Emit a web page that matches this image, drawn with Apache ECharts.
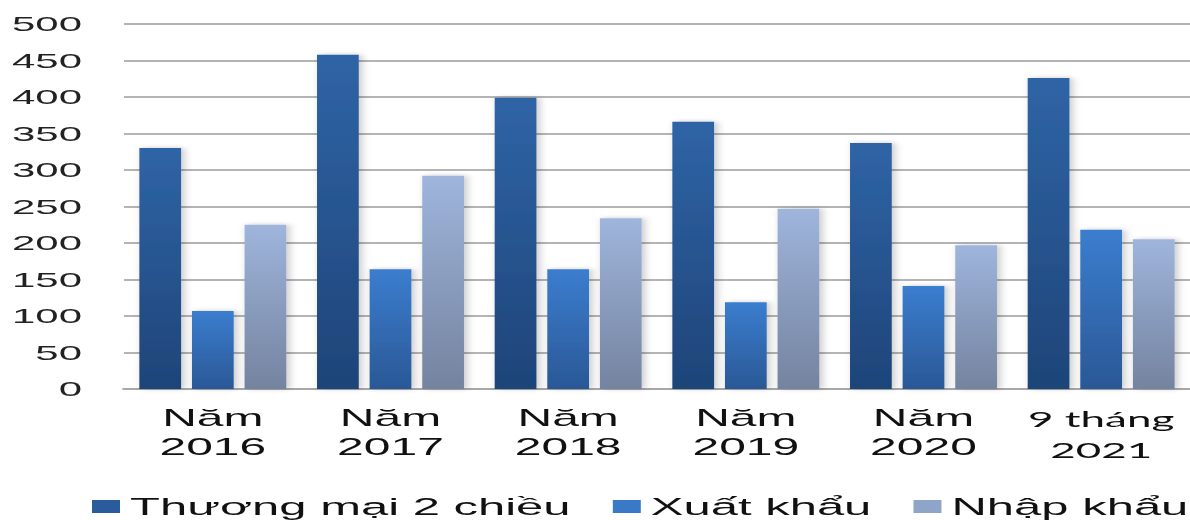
<!DOCTYPE html>
<html>
<head>
<meta charset="utf-8">
<script src="https://cdn.jsdelivr.net/npm/echarts@6/dist/echarts.min.js"></script>
<style>
  html, body { margin: 0; padding: 0; background: #fff; overflow: hidden; }
  /* The chart is laid out at half width and stretched horizontally,
     giving the wide lettering and broad bars of this figure. */
  #chart { width: 595px; height: 520px; transform: scaleX(2); transform-origin: 0 0; }
</style>
</head>
<body>
<div id="chart"></div>
<script>
// Categories (years)
const categories = ['Năm\n2016', 'Năm\n2017', 'Năm\n2018', 'Năm\n2019', 'Năm\n2020', '9 tháng\n2021'];
// Series values
const tradeTotal = [330, 458, 399, 366, 337, 426];
const exportVals = [107, 164, 164, 119, 141, 218];
const importVals = [225, 292, 234, 247, 197, 205];
// Series names
const seriesNames = ['Thương mại 2 chiều', 'Xuất khẩu', 'Nhập khẩu'];
// Value axis ticks
const yMin = 0, yMax = 500, yStep = 50;

const grad = (top, bottom) => new echarts.graphic.LinearGradient(0, 0, 0, 1, [
  { offset: 0, color: top }, { offset: 1, color: bottom }
]);

const barStyle = (top, bottom) => ({
  color: grad(top, bottom),
  shadowColor: 'rgba(0,0,0,0.22)',
  shadowBlur: 4,
  shadowOffsetX: 1.5,
  shadowOffsetY: 0
});

const chart = echarts.init(document.getElementById('chart'), null, { renderer: 'svg' });

chart.setOption({
  animation: false,
  backgroundColor: '#ffffff',
  grid: { left: 62, right: -3, top: 24, bottom: 131, containLabel: false },
  legend: {
    left: 46,
    top: 494,
    width: 570,
    padding: 0,
    itemWidth: 14,
    itemHeight: 13,
    itemGap: 21,
    icon: 'rect',
    textStyle: { fontFamily: 'Liberation Sans, Arial, sans-serif', fontSize: 24.5, color: '#111' },
    data: [
      { name: seriesNames[0], itemStyle: { color: '#2a5b9c' } },
      { name: seriesNames[1], itemStyle: { color: '#3a78c8' } },
      { name: seriesNames[2], itemStyle: { color: '#8fa4c9' } }
    ]
  },
  xAxis: {
    type: 'category',
    data: categories,
    axisLine: { show: true, lineStyle: { color: '#a8a8a8', width: 2 } },
    axisTick: { show: false },
    axisLabel: {
      interval: 0,
      margin: 14,
      fontFamily: 'Liberation Sans, Arial, sans-serif',
      fontSize: 24,
      lineHeight: 29,
      color: '#111',
      formatter: (v, i) => i === categories.length - 1
        ? v.split('\n').map(s => '{alt|' + s + '}').join('\n')
        : v,
      rich: {
        alt: { fontFamily: 'Lato, sans-serif', fontSize: 22, lineHeight: 31, color: '#111' }
      }
    }
  },
  yAxis: {
    type: 'value',
    min: yMin,
    max: yMax,
    interval: yStep,
    axisLine: { show: false },
    axisTick: { show: false },
    axisLabel: {
      margin: 21,
      fontFamily: 'Liberation Sans, Arial, sans-serif',
      fontSize: 21,
      color: '#222'
    },
    splitLine: { lineStyle: { color: '#b4b4b4', width: 2 } }
  },
  series: [
    {
      name: seriesNames[0], type: 'bar', data: tradeTotal,
      barWidth: '23.5%', barGap: '26%',
      itemStyle: barStyle('#2f64a6', '#1e4478')
    },
    {
      name: seriesNames[1], type: 'bar', data: exportVals,
      barWidth: '23.5%', barGap: '26%',
      itemStyle: barStyle('#3b7dcf', '#2a5896')
    },
    {
      name: seriesNames[2], type: 'bar', data: importVals,
      barWidth: '23.5%', barGap: '26%',
      itemStyle: barStyle('#9fb5dc', '#74839f')
    }
  ]
});
</script>
</body>
</html>
